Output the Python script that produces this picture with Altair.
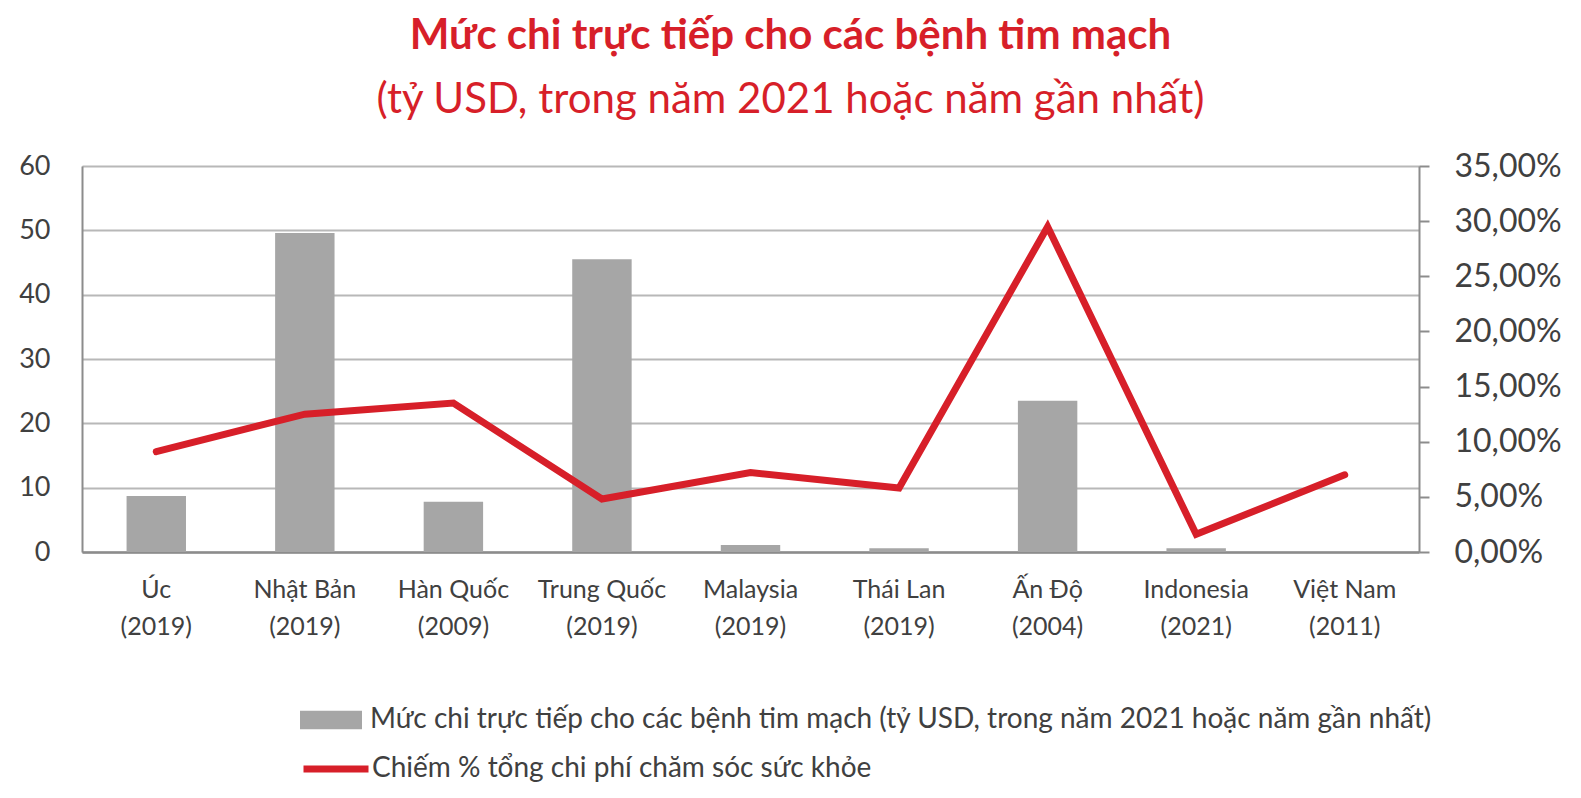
import altair as alt
import pandas as pd

countries = ["Úc", "Nhật Bản", "Hàn Quốc", "Trung Quốc", "Malaysia", "Thái Lan", "Ấn Độ", "Indonesia", "Việt Nam"]
years = ["(2019)", "(2019)", "(2009)", "(2019)", "(2019)", "(2019)", "(2004)", "(2021)", "(2011)"]
spend = [8.7, 49.6, 7.8, 45.5, 1.1, 0.6, 23.5, 0.6, None]
share = [0.091, 0.125, 0.135, 0.048, 0.072, 0.058, 0.295, 0.016, 0.070]

left_ticks = [0, 10, 20, 30, 40, 50, 60]
right_ticks = [0, 0.05, 0.10, 0.15, 0.20, 0.25, 0.30, 0.35]

bar_name = "Mức chi trực tiếp cho các bệnh tim mạch (tỷ USD, trong năm 2021 hoặc năm gần nhất)"
line_name = "Chiếm % tổng chi phí chăm sóc sức khỏe"
title_text = "Mức chi trực tiếp cho các bệnh tim mạch"
subtitle_text = "(tỷ USD, trong năm 2021 hoặc năm gần nhất)"

labels = [f"{c}|{y}" for c, y in zip(countries, years)]
df = pd.DataFrame({
    "label": labels,
    "spend": spend,
    "share": share,
    "bar_series": [bar_name] * len(labels),
    "line_series": [line_name] * len(labels),
})

FONT = "Lato"
RED = "#d71f29"
GRAY = "#a6a6a6"
TXT = "#404040"
AXIS_GRAY = "#8c8c8c"
GRID_GRAY = "#b8b8b8"

x_enc = alt.X(
    "label:N",
    sort=labels,
    scale=alt.Scale(paddingInner=0.6, paddingOuter=0.3),
    axis=alt.Axis(
        title=None,
        labelExpr="split(datum.value, '|')",
        labelAngle=0,
        labelFontSize=25,
        labelLineHeight=37,
        labelPadding=25,
        labelColor=TXT,
        labelFont=FONT,
        ticks=False,
        domainColor=AXIS_GRAY,
        domainWidth=2.5,
    ),
)

bars = alt.Chart(df).mark_bar(color=GRAY).encode(
    x=x_enc,
    y=alt.Y(
        "spend:Q",
        scale=alt.Scale(domain=[0, 60], nice=False),
        axis=alt.Axis(
            title=None,
            values=left_ticks,
            ticks=False,
            labelPadding=32,
            labelFontSize=27,
            labelColor=TXT,
            labelFont=FONT,
            domainColor=AXIS_GRAY,
            domainWidth=2,
            gridColor=GRID_GRAY,
            gridWidth=2,
        ),
    ),
    color=alt.Color(
        "bar_series:N",
        scale=alt.Scale(range=[GRAY]),
        legend=alt.Legend(
            title=None,
            orient="none",
            legendX=218,
            legendY=523,
            symbolType="M-1,-0.3L1,-0.3L1,0.3L-1,0.3Z",
            symbolSize=3844,
            symbolStrokeWidth=0,
            labelFontSize=28,
            labelFont=FONT,
            labelColor=TXT,
            labelLimit=1500,
            labelOffset=8,
            padding=0,
        ),
    ),
)

line = alt.Chart(df).mark_line(strokeWidth=7, strokeCap="round", strokeJoin="miter").encode(
    x=x_enc,
    y=alt.Y(
        "share:Q",
        scale=alt.Scale(domain=[0, 0.35], nice=False),
        axis=alt.Axis(
            title=None,
            orient="right",
            values=right_ticks,
            grid=False,
            labelExpr="replace(format(datum.value, '.2%'), '.', ',')",
            tickSize=10,
            tickWidth=2,
            tickColor=AXIS_GRAY,
            domainColor=AXIS_GRAY,
            domainWidth=2,
            labelPadding=25,
            labelFontSize=32,
            labelColor=TXT,
            labelFont=FONT,
        ),
    ),
    stroke=alt.Stroke(
        "line_series:N",
        scale=alt.Scale(range=[RED]),
        legend=alt.Legend(
            title=None,
            orient="none",
            legendX=218,
            legendY=567,
            symbolType="stroke",
            symbolSize=4225,
            symbolStrokeWidth=7,
            labelFontSize=28,
            labelFont=FONT,
            labelColor=TXT,
            labelLimit=1500,
            labelOffset=0,
            padding=0,
        ),
    ),
)

chart = alt.layer(bars, line).resolve_scale(y="independent").properties(
    width=1337,
    height=386,
    padding={"left": 82, "top": 166, "right": 162, "bottom": 246},
    autosize=alt.AutoSizeParams(type="none"),
    title=alt.TitleParams(
        text=title_text,
        subtitle=subtitle_text,
        color=RED,
        subtitleColor=RED,
        font=FONT,
        subtitleFont=FONT,
        fontSize=42,
        subtitleFontSize=42,
        fontWeight="bold",
        subtitleFontWeight="normal",
        anchor="middle",
        dx=40,
        offset=28,
        subtitlePadding=22,
    ),
).configure_view(stroke=None).configure(background="white")

chart.save("out.html", embed_options={"renderer": "svg", "actions": False})
